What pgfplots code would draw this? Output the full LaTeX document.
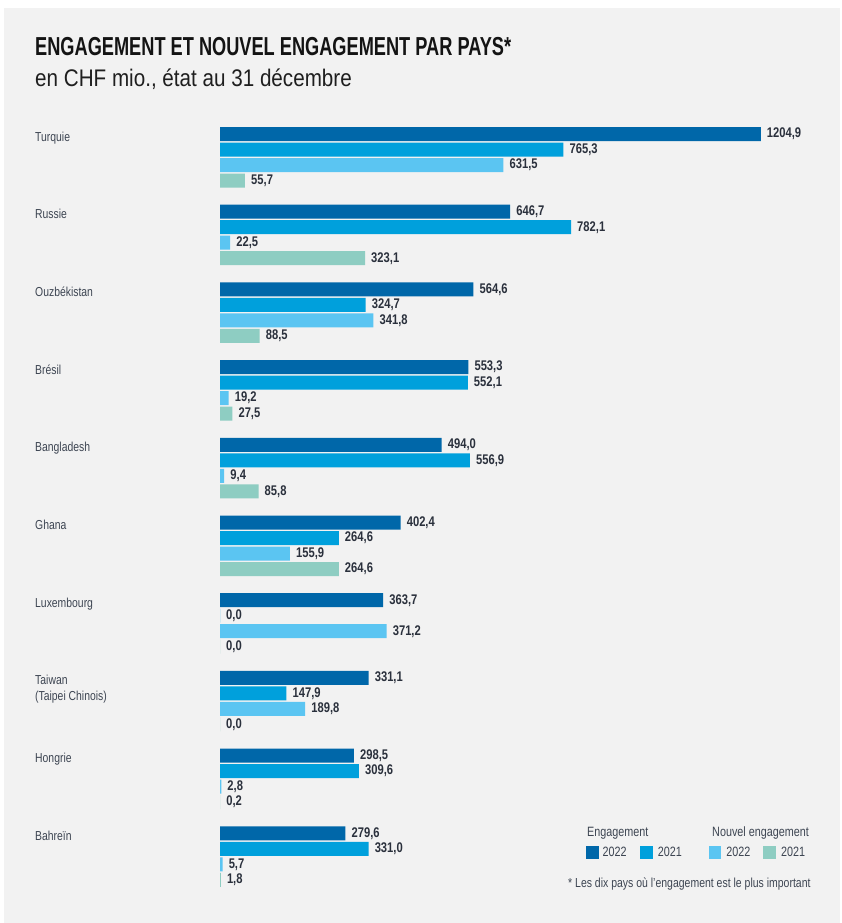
\documentclass[border=0pt]{standalone}
\usepackage{fontspec}
\setmainfont{Liberation Sans}[FakeStretch=0.8]
\newfontfamily\titlefont{Liberation Sans}[FakeStretch=0.7]
\newfontfamily\subfont{Liberation Sans}[FakeStretch=0.86]
\usepackage{pgfplots}
\usepackage{pgfplotstable}
\pgfplotsset{compat=1.18}
\definecolor{cA}{HTML}{0067A9}
\definecolor{cB}{HTML}{00A0DC}
\definecolor{cC}{HTML}{5BC5F2}
\definecolor{cD}{HTML}{8ECDC2}
\definecolor{bg}{HTML}{F2F2F2}
\definecolor{valtxt}{HTML}{2A303C}
\definecolor{lbl}{HTML}{3D4552}

\pgfplotstableread{
cat e22 e21 n22 n21
9 1204.9 765.3 631.5 55.7
8 646.7 782.1 22.5 323.1
7 564.6 324.7 341.8 88.5
6 553.3 552.1 19.2 27.5
5 494.0 556.9 9.4 85.8
4 402.4 264.6 155.9 264.6
3 363.7 0.0 371.2 0.0
2 331.1 147.9 189.8 0.0
1 298.5 309.6 2.8 0.2
0 279.6 331.0 5.7 1.8
}\data

\begin{document}
\begin{tikzpicture}
\useasboundingbox (0,0) rectangle (842pt,-923pt);
\fill[white] (0,0) rectangle (842pt,-923pt);
\fill[bg] (4pt,-8pt) rectangle (840pt,-923pt);

\node[anchor=base west, inner sep=0pt, font=\titlefont\bfseries\fontsize{26}{26}\selectfont, text=black!92] at (35pt,-56pt) {ENGAGEMENT ET NOUVEL ENGAGEMENT PAR PAYS*};
\node[anchor=base west, inner sep=0pt, font=\subfont\fontsize{24}{24}\selectfont, text=black!88] at (35pt,-87pt) {en CHF mio., état au 31 décembre};

\begin{axis}[
  at={(220pt,-895.4pt)}, anchor=south west,
  scale only axis, width=583.44pt, height=777pt,
  xmin=0, xmax=1300, ymin=-0.5, ymax=9.5,
  xbar, bar width=14pt,
  clip=false,
  axis line style={draw=none}, major tick length=0pt, xtick=\empty,
  ytick={0.2992,1.2992,2.2992,3.2992,4.2992,5.2992,6.2992,7.2992,8.2992,9.2992},
  yticklabels={Bahreïn,Hongrie,{\begin{tabular}[t]{@{}l@{}}Taiwan\\(Taipei Chinois)\end{tabular}},Luxembourg,Ghana,Bangladesh,Brésil,Ouzbékistan,Russie,Turquie},
  yticklabel style={anchor=base west, inner sep=0pt, xshift=-185pt, yshift=-7pt, font=\fontsize{13}{15.5}\selectfont, text=lbl},
  nodes near coords,
  every node near coord/.append style={anchor=west, inner sep=0pt, xshift=6pt, font=\bfseries\fontsize{14}{14}\selectfont, text=valtxt,
    /pgf/number format/fixed, /pgf/number format/fixed zerofill, /pgf/number format/precision=1,
    /pgf/number format/use comma, /pgf/number format/1000 sep={}, /pgf/number format/assume math mode=true},
  legend columns=4,
  legend cell align=left,
  legend image code/.code={\fill[#1] (0pt,-6.3pt) rectangle (12.6pt,6.3pt);},
  legend style={draw=none, fill=none, inner sep=0pt, outer sep=0pt, anchor=west,
    at={(axis description cs:0.6274,0.0552)},
    font=\fontsize{13.5}{13.5}\selectfont, text=lbl, nodes={inner sep=0pt},
    /tikz/column 1/.style={column sep=4pt},
    /tikz/column 2/.style={column sep=13.5pt},
    /tikz/column 3/.style={column sep=5pt},
    /tikz/column 4/.style={column sep=27pt},
    /tikz/column 5/.style={column sep=5pt},
    /tikz/column 6/.style={column sep=13pt},
    /tikz/column 7/.style={column sep=5pt}},
]
\addplot[fill=cA, draw=none, bar shift=23.25pt] table[x=e22, y=cat] {\data};
\addplot[fill=cB, draw=none, bar shift=7.75pt] table[x=e21, y=cat] {\data};
\addplot[fill=cC, draw=none, bar shift=-7.75pt] table[x=n22, y=cat] {\data};
\addplot[fill=cD, draw=none, bar shift=-23.25pt] table[x=n21, y=cat] {\data};
\legend{2022,2021,2022,2021}
\end{axis}

\node[anchor=base west, inner sep=0pt, font=\fontsize{13.5}{13.5}\selectfont, text=lbl] at (587pt,-836pt) {Engagement};
\node[anchor=base west, inner sep=0pt, font=\fontsize{13.5}{13.5}\selectfont, text=lbl] at (712pt,-836pt) {Nouvel engagement};
\node[anchor=base west, inner sep=0pt, font=\fontsize{13.1}{13.1}\selectfont, text=lbl] at (568pt,-887pt) {* Les dix pays où l’engagement est le plus important};
\end{tikzpicture}
\end{document}
